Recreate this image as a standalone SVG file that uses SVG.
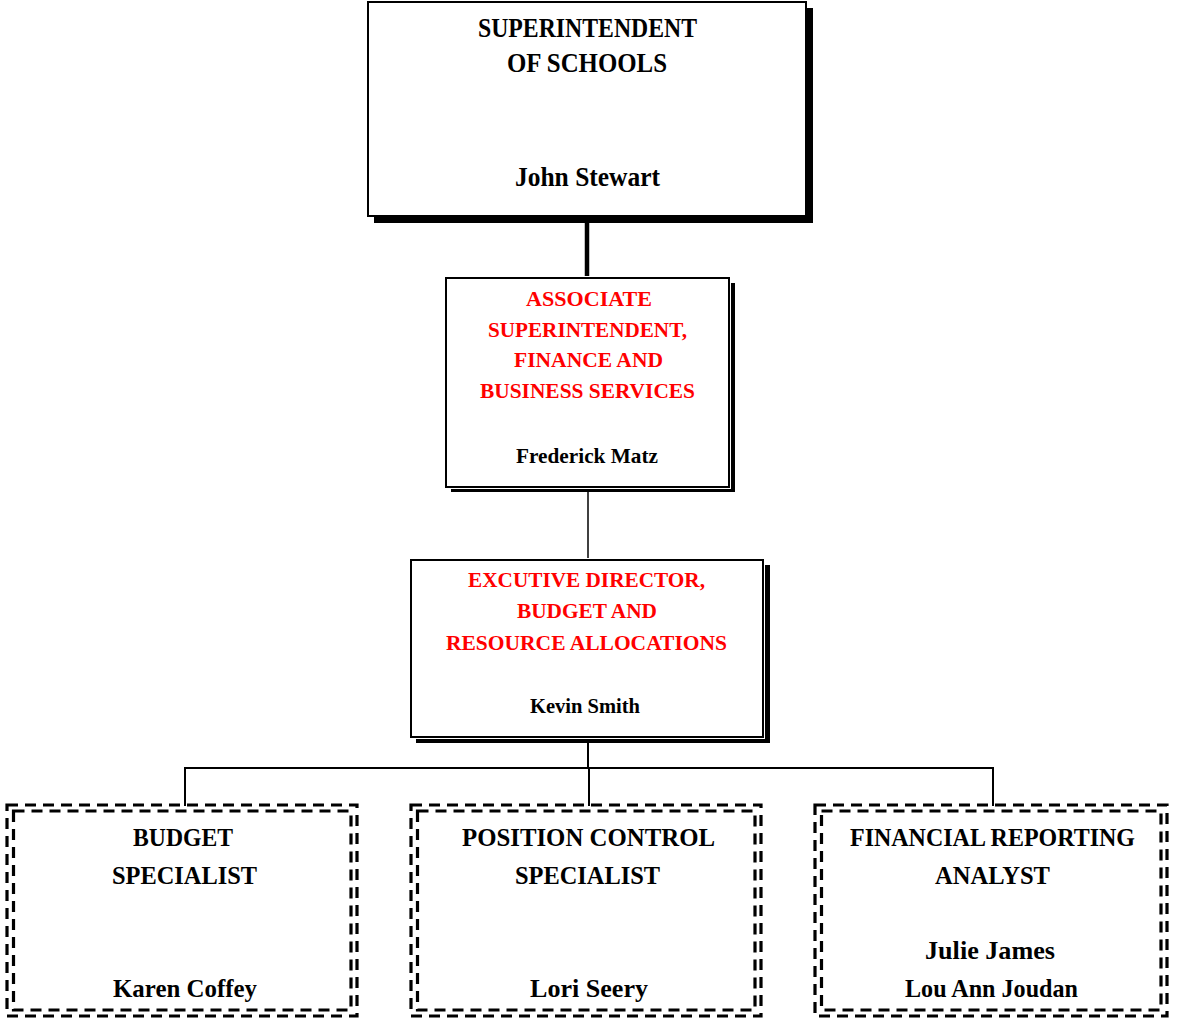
<svg xmlns="http://www.w3.org/2000/svg" width="1177" height="1024" viewBox="0 0 1177 1024">
<style>
text { font-family: "Liberation Serif", "Times New Roman", serif; font-weight: bold; text-anchor: middle; }
.blk { fill: #000; }
.red { fill: #ff0000; }
.box { fill: #fff; stroke: #000; stroke-width: 2; }
.shadow { fill: #000; }
.dash { fill: none; stroke: #000; stroke-width: 3.2; stroke-dasharray: 11 7; }
.ln { fill: none; stroke: #000; stroke-width: 2; }
.thick { stroke-width: 4.5; }
.thin { stroke-width: 1.5; }
</style>
<rect width="1177" height="1024" fill="#fff"/>
<g id="connectors">
  <line class="ln thick" x1="587" y1="222" x2="587" y2="279"/>
  <line class="ln thin" x1="588" y1="492" x2="588" y2="560"/>
  <line class="ln" x1="588" y1="742" x2="588" y2="768"/>
  <polyline class="ln" points="185,806 185,768 993,768 993,806"/>
  <line class="ln" x1="589" y1="768" x2="589" y2="806"/>
</g>
<g id="superintendent">
  <rect class="shadow" x="374" y="8" width="439" height="215"/>
  <rect class="box" x="368" y="2" width="438" height="214"/>
  <text class="blk" x="587.5" y="37" font-size="27" textLength="219" lengthAdjust="spacingAndGlyphs">SUPERINTENDENT</text>
  <text class="blk" x="587" y="72" font-size="27" textLength="160" lengthAdjust="spacingAndGlyphs">OF SCHOOLS</text>
  <text class="blk" x="587.5" y="186" font-size="27" textLength="145" lengthAdjust="spacingAndGlyphs">John Stewart</text>
</g>
<g id="assoc-superintendent">
  <rect class="shadow" x="451" y="283" width="284" height="209"/>
  <rect x="446" y="278" width="283" height="209" fill="#fff" stroke="#fff" stroke-width="4"/>
  <rect class="box" x="446" y="278" width="283" height="209"/>
  <text class="red" x="589" y="306" font-size="22" textLength="126" lengthAdjust="spacingAndGlyphs">ASSOCIATE</text>
  <text class="red" x="587.5" y="337" font-size="22" textLength="199" lengthAdjust="spacingAndGlyphs">SUPERINTENDENT,</text>
  <text class="red" x="588.5" y="367" font-size="22" textLength="149" lengthAdjust="spacingAndGlyphs">FINANCE AND</text>
  <text class="red" x="587.5" y="398" font-size="22" textLength="215" lengthAdjust="spacingAndGlyphs">BUSINESS SERVICES</text>
  <text class="blk" x="587" y="463" font-size="22" textLength="142" lengthAdjust="spacingAndGlyphs">Frederick Matz</text>
</g>
<g id="exec-director">
  <rect class="shadow" x="416" y="565" width="354" height="178"/>
  <rect x="411" y="560" width="352" height="177" fill="#fff" stroke="#fff" stroke-width="4"/>
  <rect class="box" x="411" y="560" width="352" height="177"/>
  <text class="red" x="586.5" y="587" font-size="22" textLength="237" lengthAdjust="spacingAndGlyphs">EXCUTIVE DIRECTOR,</text>
  <text class="red" x="587" y="618" font-size="22" textLength="140" lengthAdjust="spacingAndGlyphs">BUDGET AND</text>
  <text class="red" x="586.5" y="650" font-size="22" textLength="281" lengthAdjust="spacingAndGlyphs">RESOURCE ALLOCATIONS</text>
  <text class="blk" x="585" y="713" font-size="22" textLength="110" lengthAdjust="spacingAndGlyphs">Kevin Smith</text>
</g>
<g id="budget-specialist">
  <rect class="dash" x="7" y="805" width="350" height="211"/>
  <rect class="dash" x="13.5" y="811" width="337.5" height="199"/>
  <text class="blk" x="183" y="846" font-size="25" textLength="100" lengthAdjust="spacingAndGlyphs">BUDGET</text>
  <text class="blk" x="184.5" y="884" font-size="25" textLength="145" lengthAdjust="spacingAndGlyphs">SPECIALIST</text>
  <text class="blk" x="185" y="997" font-size="25" textLength="144" lengthAdjust="spacingAndGlyphs">Karen Coffey</text>
</g>
<g id="position-control-specialist">
  <rect class="dash" x="411" y="805" width="350" height="211"/>
  <rect class="dash" x="417.5" y="811" width="337.5" height="199"/>
  <text class="blk" x="588.5" y="846" font-size="25" textLength="253" lengthAdjust="spacingAndGlyphs">POSITION CONTROL</text>
  <text class="blk" x="587.5" y="884" font-size="25" textLength="145" lengthAdjust="spacingAndGlyphs">SPECIALIST</text>
  <text class="blk" x="589" y="997" font-size="25" textLength="118" lengthAdjust="spacingAndGlyphs">Lori Seery</text>
</g>
<g id="financial-reporting-analyst">
  <rect class="dash" x="815" y="805" width="352" height="211"/>
  <rect class="dash" x="821.5" y="811" width="339.5" height="199"/>
  <text class="blk" x="992.5" y="846" font-size="25" textLength="285" lengthAdjust="spacingAndGlyphs">FINANCIAL REPORTING</text>
  <text class="blk" x="992.5" y="884" font-size="25" textLength="115" lengthAdjust="spacingAndGlyphs">ANALYST</text>
  <text class="blk" x="990" y="959" font-size="25" textLength="130" lengthAdjust="spacingAndGlyphs">Julie James</text>
  <text class="blk" x="991.5" y="997" font-size="25" textLength="173" lengthAdjust="spacingAndGlyphs">Lou Ann Joudan</text>
</g>
</svg>
